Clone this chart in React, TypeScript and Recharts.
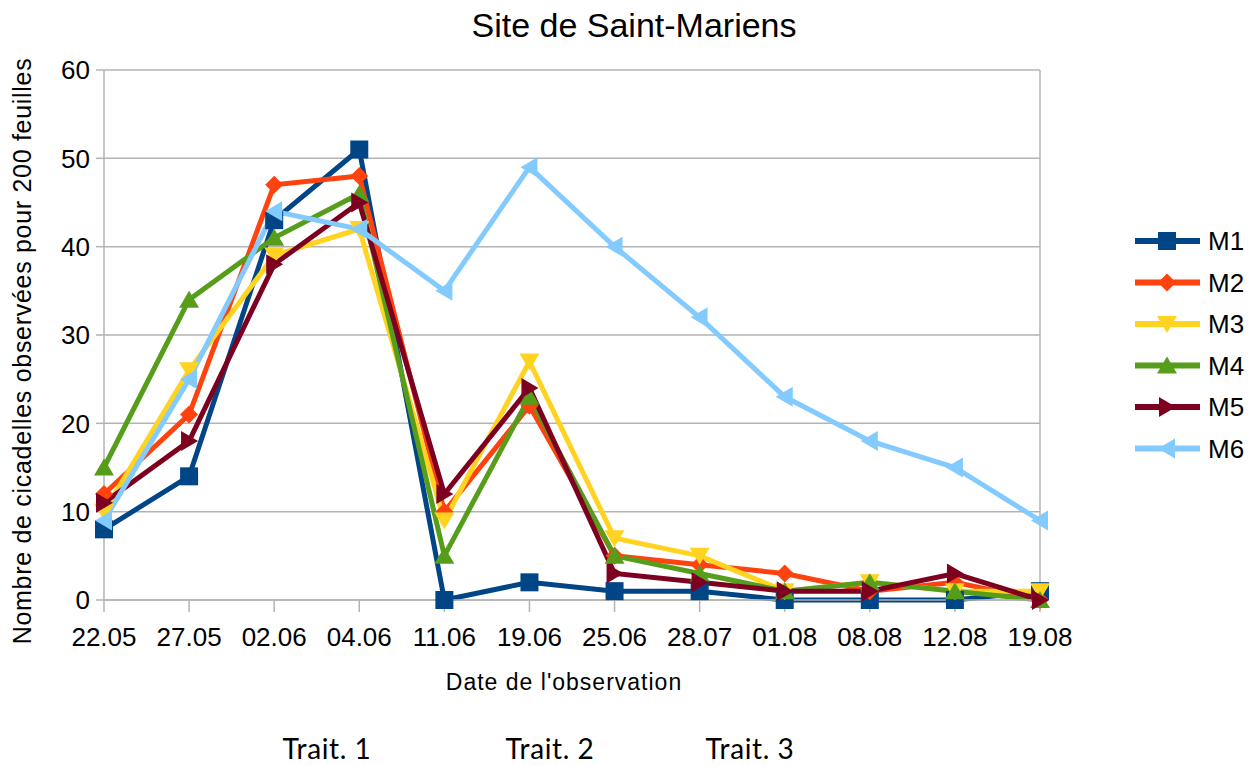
import React from 'react';
import { LineChart, Line, XAxis, YAxis, CartesianGrid, ReferenceLine } from 'recharts';

const dates = ['22.05', '27.05', '02.06', '04.06', '11.06', '19.06', '25.06', '28.07', '01.08', '08.08', '12.08', '19.08'];
const m1 = [8, 14, 43, 51, 0, 2, 1, 1, 0, 0, 0, 1];
const m2 = [12, 21, 47, 48, 10, 22, 5, 4, 3, 1, 2, 0];
const m3 = [10, 26, 39, 42, 9, 27, 7, 5, 1, 2, 1, 1];
const m4 = [15, 34, 41, 46, 5, 23, 5, 3, 1, 2, 1, 0];
const m5 = [11, 18, 38, 45, 12, 24, 3, 2, 1, 1, 3, 0];
const m6 = [9, 25, 44, 42, 35, 49, 40, 32, 23, 18, 15, 9];
const yTicks = [0, 10, 20, 30, 40, 50, 60];
const traitLabels = ['Trait. 1', 'Trait. 2', 'Trait. 3'];

const SERIES = [
  { key: 'M1', values: m1, color: '#004586', shape: 'square' },
  { key: 'M2', values: m2, color: '#ff420e', shape: 'diamond' },
  { key: 'M3', values: m3, color: '#ffd320', shape: 'down' },
  { key: 'M4', values: m4, color: '#579d1c', shape: 'up' },
  { key: 'M5', values: m5, color: '#7e0021', shape: 'right' },
  { key: 'M6', values: m6, color: '#83caff', shape: 'left' },
];

const data = dates.map((d, i) => {
  const row: Record<string, string | number> = { date: d };
  SERIES.forEach(s => { row[s.key] = s.values[i]; });
  return row;
});

const FONT = '"Liberation Sans", Arial, sans-serif';

function markerPath(shape: string, x: number, y: number) {
  const r = 10;
  switch (shape) {
    case 'square':
      return `M${x - 9},${y - 9}h18v18h-18z`;
    case 'diamond':
      return `M${x},${y - 9}L${x + 9},${y}L${x},${y + 9}L${x - 9},${y}z`;
    case 'down':
      return `M${x - r},${y - 8}L${x + r},${y - 8}L${x},${y + 9}z`;
    case 'up':
      return `M${x - r},${y + 8}L${x + r},${y + 8}L${x},${y - 9}z`;
    case 'right':
      return `M${x - 8},${y - r}L${x - 8},${y + r}L${x + 9},${y}z`;
    default:
      return `M${x + 8},${y - r}L${x + 8},${y + r}L${x - 9},${y}z`;
  }
}

function makeDot(shape: string, color: string) {
  return (props: any) => {
    const { cx, cy, index } = props;
    if (cx == null || cy == null) return <g key={`d-${index}`} />;
    return <path key={`d-${shape}-${index}`} d={markerPath(shape, cx, cy)} fill={color} />;
  };
}

export default function App() {
  return (
    <div style={{ position: 'absolute', left: 0, top: 0, width: 1256, height: 766, background: '#fff', fontFamily: FONT, overflow: 'hidden' }}>
      <LineChart
        width={1256}
        height={766}
        data={data}
        margin={{ top: 70, right: 216, left: 4, bottom: 106 }}
      >
        <CartesianGrid vertical={false} stroke="#b3b3b3" strokeWidth={1.5} />
        <XAxis
          dataKey="date"
          height={60}
          padding={{ left: 0, right: 0 }}
          stroke="#b3b3b3"
          strokeWidth={1.5}
          tickSize={12}
          tickMargin={16}
          interval={0}
          tick={{ fill: '#000', fontSize: 26, fontFamily: FONT }}
        />
        <YAxis
          width={100}
          domain={[0, 60]}
          ticks={yTicks}
          stroke="#b3b3b3"
          strokeWidth={1.5}
          tickSize={8}
          tickMargin={6}
          tick={{ fill: '#000', fontSize: 26, fontFamily: FONT }}
        />
        <ReferenceLine x={dates[dates.length - 1]} stroke="#b3b3b3" strokeWidth={1.5} />
        {SERIES.map(s => (
          <Line
            key={s.key}
            dataKey={s.key}
            stroke={s.color}
            strokeWidth={5}
            dot={makeDot(s.shape, s.color)}
            activeDot={false}
            isAnimationActive={false}
          />
        ))}
      </LineChart>

      <div style={{ position: 'absolute', left: 0, width: 1268, top: 5, textAlign: 'center', fontSize: 34, lineHeight: '40px' }}>
        Site de Saint-Mariens
      </div>

      <div
        style={{
          position: 'absolute',
          left: 22,
          top: 351,
          transform: 'translate(-50%, -50%) rotate(-90deg)',
          whiteSpace: 'nowrap',
          fontSize: 25,
          letterSpacing: 0.7,
          lineHeight: '28px',
        }}
      >
        Nombre de cicadelles observées pour 200 feuilles
      </div>

      <div style={{ position: 'absolute', left: 564, top: 682, transform: 'translate(-50%, -50%)', whiteSpace: 'nowrap', fontSize: 23, letterSpacing: 1, lineHeight: '26px' }}>
        Date de l'observation
      </div>

      {traitLabels.map((t, i) => (
        <div
          key={t}
          style={{
            position: 'absolute',
            left: [327, 550, 750][i],
            top: 731,
            lineHeight: '34px',
            transform: 'translateX(-50%)',
            whiteSpace: 'nowrap',
            fontSize: 28,
            letterSpacing: 0.6,
            fontFamily: 'Lato, sans-serif',
          }}
        >
          {t}
        </div>
      ))}

      <svg style={{ position: 'absolute', left: 1120, top: 215 }} width={136} height={260}>
        {SERIES.map((s, i) => {
          const y = 26 + i * 41.5;
          return (
            <g key={s.key}>
              <line x1={15} x2={80} y1={y} y2={y} stroke={s.color} strokeWidth={6} />
              <path d={markerPath(s.shape, 47, y)} fill={s.color} />
              <text x={88} y={y + 9} fontSize={26} fontFamily={FONT} fill="#000">{s.key}</text>
            </g>
          );
        })}
      </svg>
    </div>
  );
}
